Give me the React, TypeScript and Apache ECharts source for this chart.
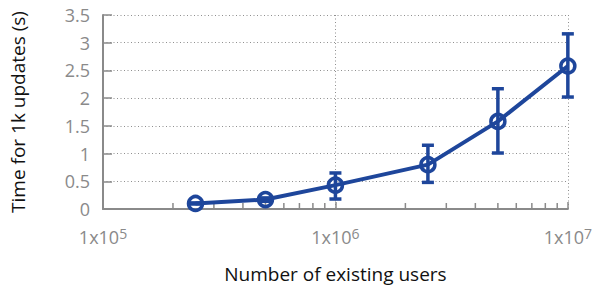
import React, { useEffect, useRef } from 'react';
import * as echarts from 'echarts';

const users = [2.5e5, 5e5, 1e6, 2.5e6, 5e6, 1e7];
const times = [0.1, 0.17, 0.43, 0.8, 1.58, 2.58];
const errLow = [0.09, 0.14, 0.18, 0.48, 1.01, 2.02];
const errHigh = [0.11, 0.2, 0.65, 1.15, 2.17, 3.16];
const minorTickValues = [2e5, 3e5, 4e5, 5e5, 6e5, 7e5, 8e5, 9e5, 2e6, 3e6, 4e6, 5e6, 6e6, 7e6, 8e6, 9e6];

const BLUE = '#1e469b';
const GRAY = '#8a8a8a';
const FONT = 'Open Sans';

export default function App() {
  const ref = useRef<HTMLDivElement>(null);
  useEffect(() => {
    if (!ref.current) return;
    const chart = echarts.init(ref.current, undefined, { renderer: 'svg' });
    chart.setOption({
      animation: false,
      backgroundColor: '#fff',
      textStyle: { fontFamily: FONT },
      grid: { left: 100, right: 27, top: 15, bottom: 77 },
      xAxis: {
        type: 'log',
        logBase: 10,
        min: 1e5,
        max: 1e7,
        name: 'Number of existing users',
        nameLocation: 'middle',
        nameGap: 55,
        nameTextStyle: { fontFamily: FONT, fontSize: 19, color: '#111' },
        axisLine: { show: true, lineStyle: { color: GRAY, width: 2 } },
        axisTick: { show: true, inside: true, length: 7, lineStyle: { color: GRAY, width: 1.5 } },
        splitLine: { show: true, lineStyle: { color: '#8f8f8f', width: 1, type: [1, 2.5] } },
        axisLabel: {
          margin: 17,
          color: GRAY,
          fontFamily: FONT,
          fontSize: 18,
          lineHeight: 22,
          formatter: (v: number) => `1x10{sup|${Math.round(Math.log10(v))}}`,
          rich: {
            sup: { fontSize: 14, lineHeight: 13, verticalAlign: 'top', color: GRAY, fontFamily: FONT },
          },
        },
      },
      yAxis: {
        type: 'value',
        min: 0,
        max: 3.5,
        interval: 0.5,
        name: 'Time for 1k updates (s)',
        nameLocation: 'middle',
        nameGap: 76,
        nameTextStyle: { fontFamily: FONT, fontSize: 19, color: '#111' },
        axisLine: { show: true, lineStyle: { color: GRAY, width: 2 } },
        axisTick: { show: true, inside: true, length: 9, lineStyle: { color: GRAY, width: 1.5 } },
        splitLine: { show: true, lineStyle: { color: '#8f8f8f', width: 1, type: [1, 2.5] } },
        axisLabel: { margin: 13, color: GRAY, fontFamily: FONT, fontSize: 18 },
      },
      series: [
        {
          type: 'custom',
          z: 3,
          silent: true,
          data: minorTickValues.map((v) => [v, 0]),
          renderItem: (params: any, api: any) => {
            const p = api.coord([api.value(0), api.value(1)]);
            return {
              type: 'line',
              shape: { x1: p[0], y1: p[1], x2: p[0], y2: p[1] - 6 },
              style: { stroke: GRAY, lineWidth: 1.5 },
            };
          },
        },
        {
          type: 'line',
          z: 4,
          data: users.map((u, i) => [u, times[i]]),
          symbol: 'circle',
          symbolSize: 14,
          lineStyle: { color: BLUE, width: 4 },
          itemStyle: { color: 'none', borderColor: BLUE, borderWidth: 3.5 },
        },
        {
          type: 'custom',
          z: 5,
          silent: true,
          data: users.map((u, i) => [u, errLow[i], errHigh[i]]),
          renderItem: (params: any, api: any) => {
            const x = api.value(0);
            const lo = api.coord([x, api.value(1)]);
            const hi = api.coord([x, api.value(2)]);
            const hw = 6;
            const style = { stroke: BLUE, lineWidth: 3.5 };
            return {
              type: 'group',
              children: [
                { type: 'line', shape: { x1: lo[0], y1: lo[1], x2: hi[0], y2: hi[1] }, style },
                { type: 'line', shape: { x1: hi[0] - hw, y1: hi[1], x2: hi[0] + hw, y2: hi[1] }, style },
                { type: 'line', shape: { x1: lo[0] - hw, y1: lo[1], x2: lo[0] + hw, y2: lo[1] }, style },
              ],
            };
          },
        },
      ],
    });
    return () => chart.dispose();
  }, []);
  return <div ref={ref} style={{ width: 595, height: 288, position: 'absolute', left: 0, top: 0 }} />;
}
